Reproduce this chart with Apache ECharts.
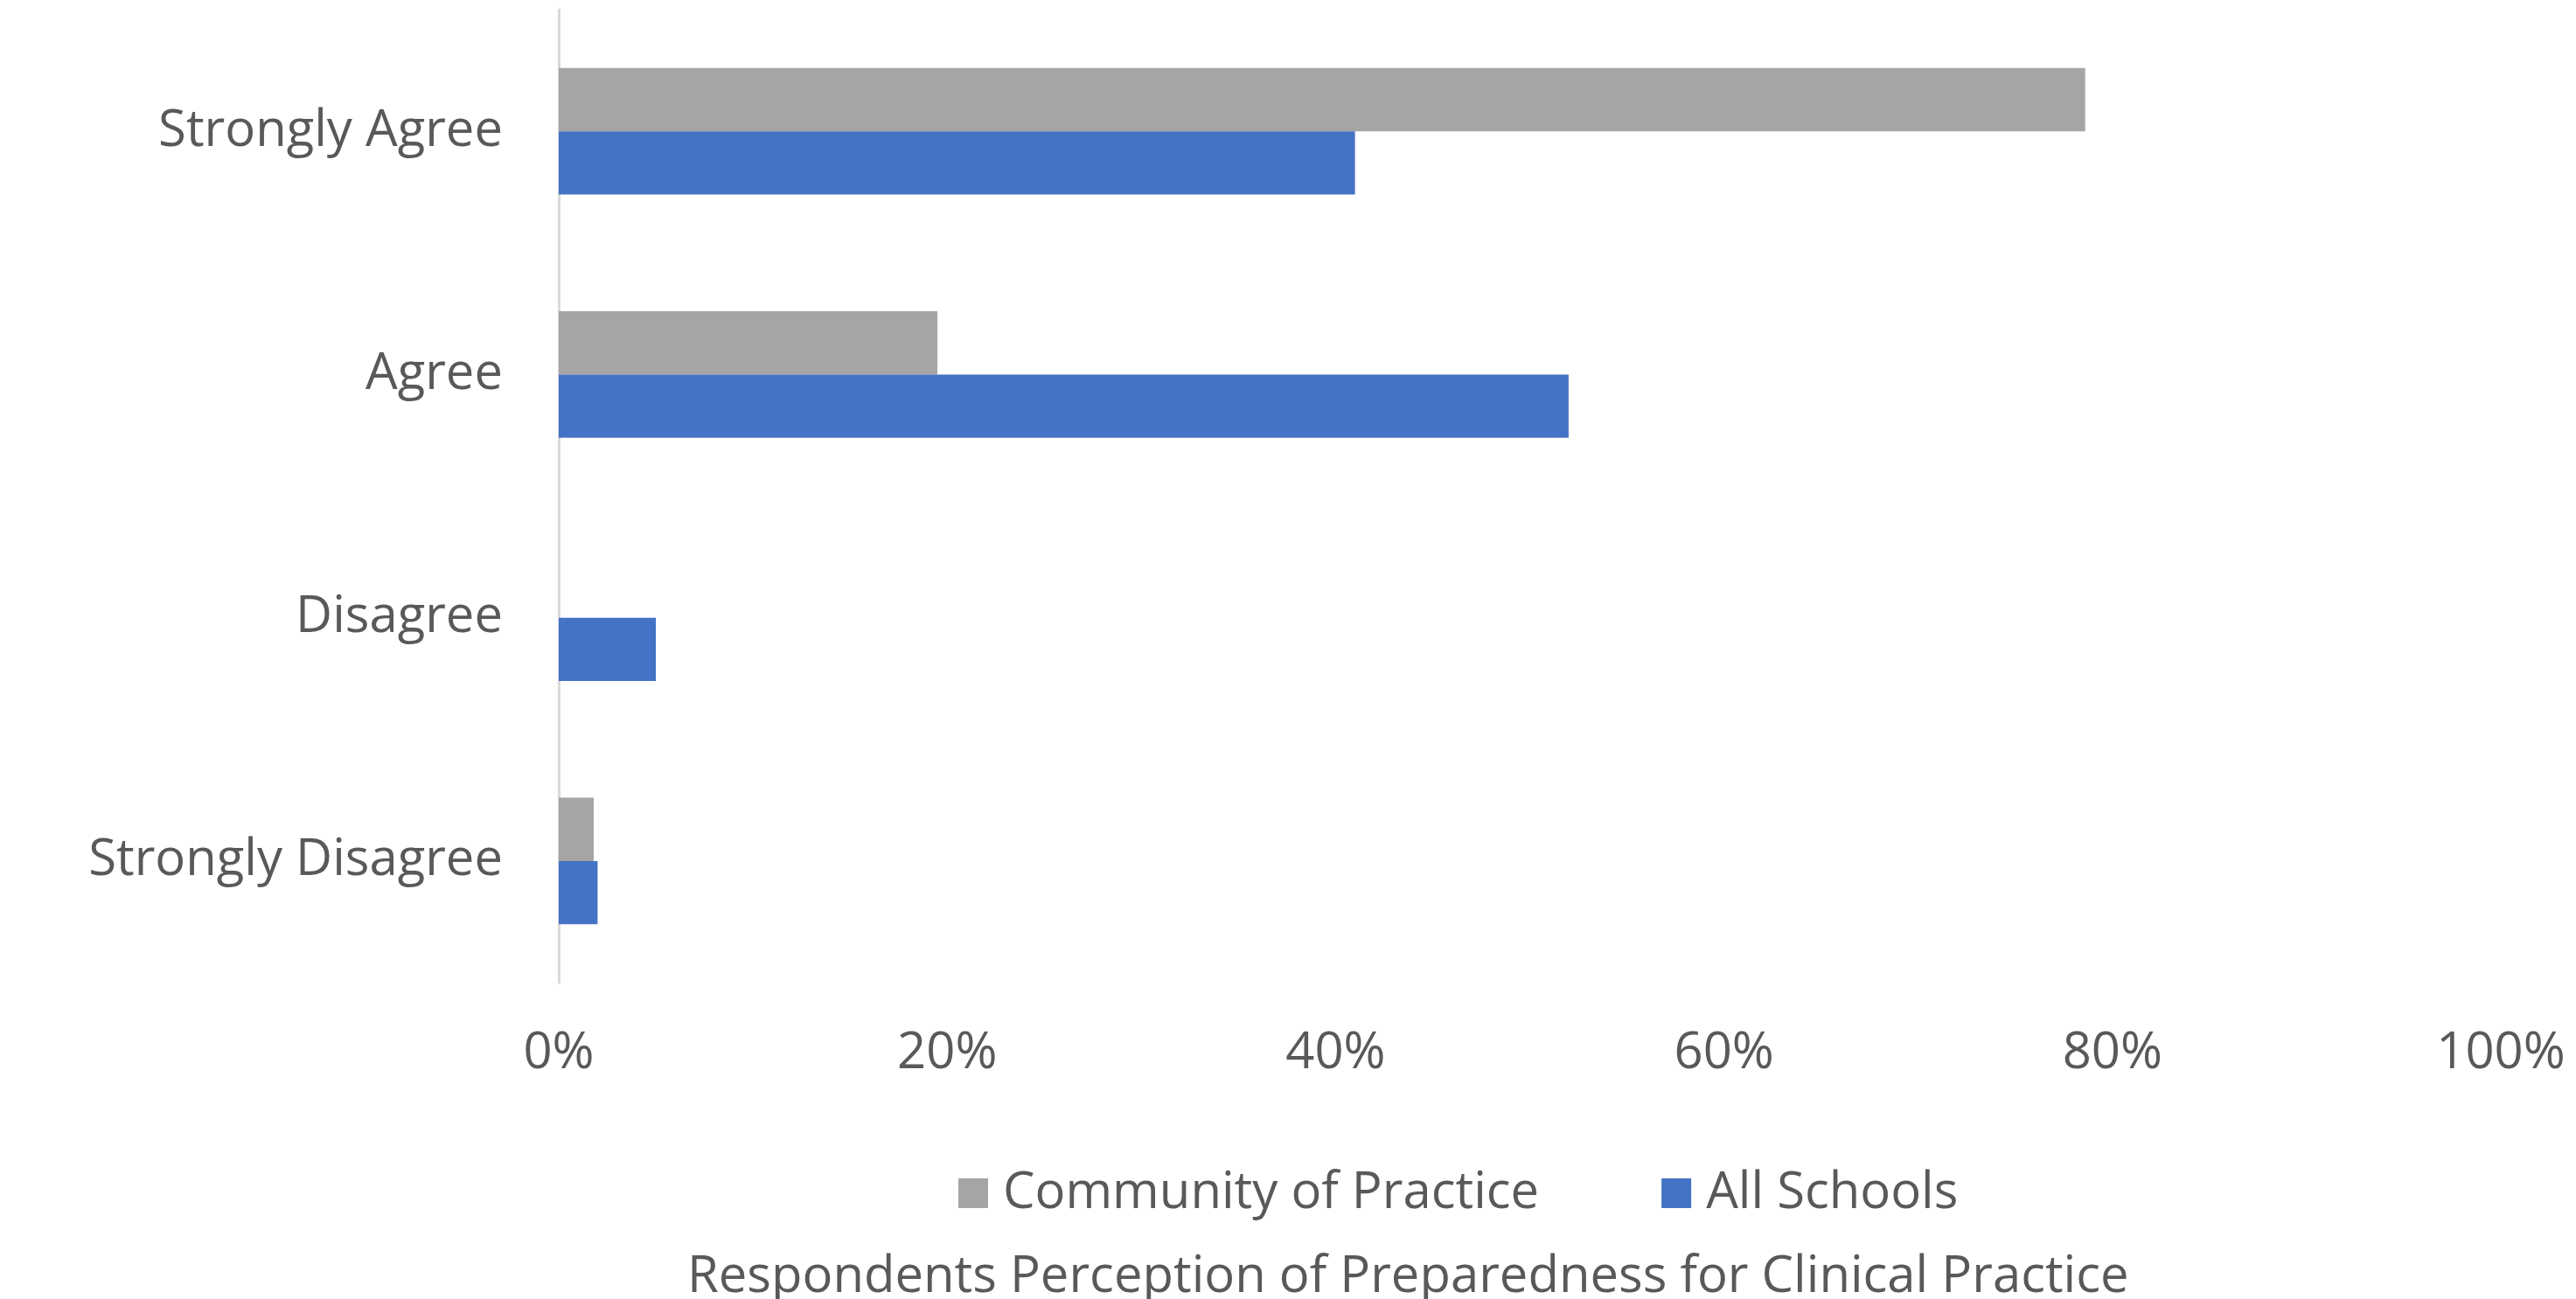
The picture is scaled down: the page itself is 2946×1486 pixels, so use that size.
<!DOCTYPE html>
<html>
<head>
<meta charset="utf-8">
<title>Respondents Perception of Preparedness for Clinical Practice</title>
<script src="https://cdn.jsdelivr.net/npm/echarts@6/dist/echarts.min.js"></script>
<style>
  html, body { margin: 0; padding: 0; background: #fff; }
  #chart { width: 2946px; height: 1486px; }
</style>
</head>
<body>
<div id="chart"></div>
<script>
// data
var categories = ['Strongly Agree', 'Agree', 'Disagree', 'Strongly Disagree'];
var communityOfPractice = [78.6, 19.5, 0, 1.8];
var allSchools = [41.0, 52.0, 5.0, 2.0];
var xTicks = [0, 20, 40, 60, 80, 100];

var textColor = '#595959';
var fontFamily = '"Open Sans", "Noto Sans", sans-serif';
var fontSize = 58;

var chart = echarts.init(document.getElementById('chart'));
var option = {
  animation: false,
  backgroundColor: '#ffffff',
  textStyle: { fontFamily: fontFamily, color: textColor },
  title: {
    text: 'Respondents Perception of Preparedness for Clinical Practice',
    left: 781,
    top: 1427,
    textStyle: { fontSize: fontSize, fontWeight: 'normal', color: textColor, fontFamily: fontFamily }
  },
  legend: {
    left: 1091,
    top: 1331,
    itemWidth: 34,
    itemHeight: 34,
    itemGap: 140,
    icon: 'rect',
    textStyle: { fontSize: fontSize, color: textColor, fontFamily: fontFamily, padding: [0, 0, 0, 12] },
    data: ['Community of Practice', 'All Schools']
  },
  grid: { left: 639, right: 86, top: 11, bottom: 1486 - 1124 },
  xAxis: {
    type: 'value',
    min: xTicks[0],
    max: xTicks[xTicks.length - 1],
    interval: 20,
    axisLine: { show: false },
    axisTick: { show: false },
    splitLine: { show: false },
    axisLabel: {
      formatter: '{value}%',
      fontSize: fontSize,
      color: textColor,
      margin: 52,
      fontFamily: fontFamily
    }
  },
  yAxis: {
    type: 'category',
    data: categories,
    inverse: true,
    axisLine: { show: true, lineStyle: { color: '#D9D9D9', width: 3 } },
    axisTick: { show: false },
    axisLabel: { fontSize: fontSize, color: textColor, margin: 64, fontFamily: fontFamily }
  },
  series: [
    {
      name: 'Community of Practice',
      type: 'bar',
      data: communityOfPractice,
      itemStyle: { color: '#A5A5A5' },
      barGap: '0%',
      barCategoryGap: '48%'
    },
    {
      name: 'All Schools',
      type: 'bar',
      data: allSchools,
      itemStyle: { color: '#4472C4' },
      barGap: '0%',
      barCategoryGap: '48%'
    }
  ]
};
option && chart.setOption(option);
</script>
</body>
</html>
